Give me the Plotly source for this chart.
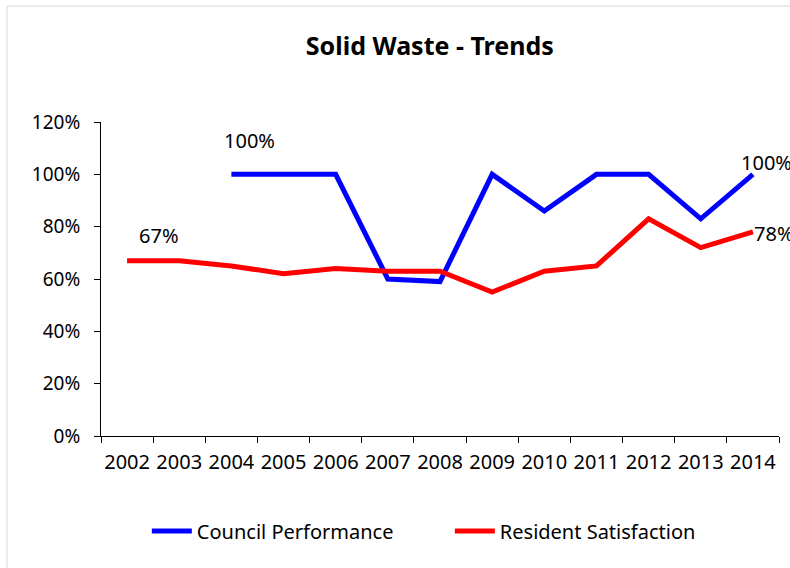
import plotly.graph_objects as go

years = ["2002", "2003", "2004", "2005", "2006", "2007", "2008",
         "2009", "2010", "2011", "2012", "2013", "2014"]
council = [None, None, 100, 100, 100, 60, 59, 100, 86, 100, 100, 83, 100]
resident = [67, 67, 65, 62, 64, 63, 63, 55, 63, 65, 83, 72, 78]
y_ticks = [0, 20, 40, 60, 80, 100, 120]
y_labels = [f"{v}%" for v in y_ticks]

FONT = "Noto Sans, DejaVu Sans, sans-serif"

fig = go.Figure()
fig.add_trace(go.Scatter(x=years, y=council, mode="lines", name="Council Performance",
                         line=dict(color="#0000FF", width=5)))
fig.add_trace(go.Scatter(x=years, y=resident, mode="lines", name="Resident Satisfaction",
                         line=dict(color="#FF0000", width=5)))

i04 = years.index("2004")
i02 = years.index("2002")
i14 = years.index("2014")
ann = [
    dict(x=i04, y=council[i04], text=f"{council[i04]}%", xshift=18, yshift=34),
    dict(x=i02, y=resident[i02], text=f"{resident[i02]}%", xshift=32, yshift=25),
    dict(x=i14, y=council[i14], text=f"{council[i14]}%", xanchor="left", xshift=-14, yshift=12),
    dict(x=i14, y=resident[i14], text=f"{resident[i14]}%", xanchor="left", xshift=-1, yshift=-2),
]
for a in ann:
    a.update(showarrow=False, xref="x", yref="y", font=dict(family=FONT, size=20, color="black"))
    a.setdefault("xanchor", "center")

fig.update_layout(
    width=790, height=568,
    margin=dict(l=101, r=11, t=122, b=132, autoexpand=False),
    paper_bgcolor="white", plot_bgcolor="white",
    font=dict(family=FONT, size=20, color="black"),
    title=dict(text="<b>Solid Waste - Trends</b>", x=0.485, xref="paper", xanchor="center",
               y=1 - 46 / 568, yref="container", yanchor="middle",
               font=dict(family=FONT, size=25, color="black")),
    showlegend=True,
    legend=dict(orientation="h", x=0.5145, xanchor="center", y=-0.3025, yanchor="middle",
                font=dict(family=FONT, size=20, color="black"), itemwidth=40,
                entrywidth=248, traceorder="normal"),
    annotations=ann,
    shapes=[dict(type="rect", xref="paper", yref="paper", x0=-0.1386, y0=-0.6, x1=1.2, y1=1.369,
                 line=dict(color="#D9D9D9", width=1), fillcolor="rgba(0,0,0,0)", layer="below")],
)
fig.update_xaxes(type="category", range=[-0.5, 12.5], showline=True, linecolor="black", linewidth=1,
                 ticks="outside", tickson="boundaries", ticklen=6, tickcolor="black",
                 showgrid=False, zeroline=False, ticklabelstandoff=8, tickangle=0, automargin=False,
                 tickfont=dict(family=FONT, size=20))
fig.update_yaxes(range=[0, 120], tickvals=y_ticks, ticktext=y_labels, showline=True,
                 linecolor="black", linewidth=1, ticks="outside", ticklen=6, tickcolor="black",
                 showgrid=False, zeroline=False, ticklabelstandoff=10, automargin=False,
                 tickfont=dict(family=FONT, size=19))

fig.write_html("out.html")
